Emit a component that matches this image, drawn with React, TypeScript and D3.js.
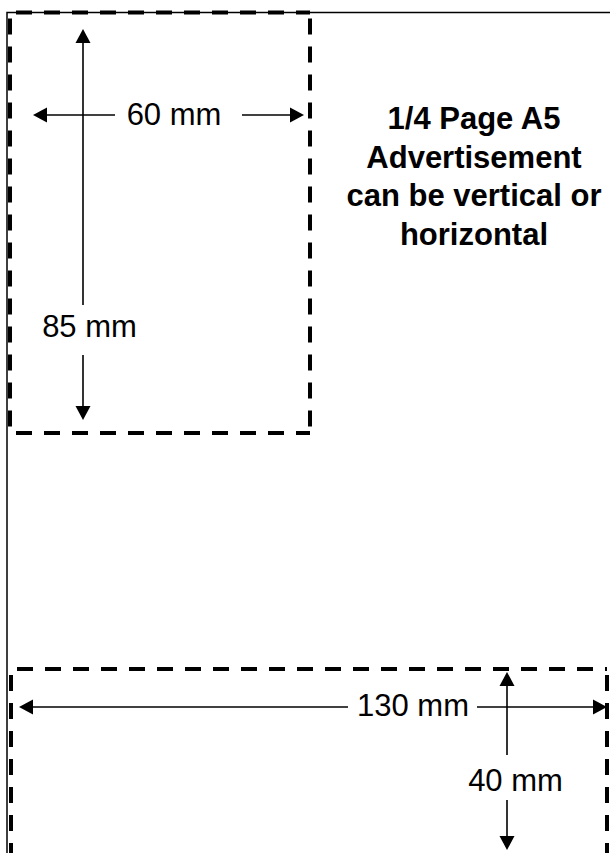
import React, { useEffect, useRef } from 'react';
import * as d3 from 'd3';

// dimensions of the advert (mm) and which way each arrow runs
const dimensionMm = [60, 85, 130, 40];
const dimensionDir = ['h', 'v', 'h', 'v'];
const headingLines = ['1/4 Page A5', 'Advertisement', 'can be vertical or', 'horizontal'];

const W = 610;
const H = 853;

const App: React.FC = () => {
  const svgRef = useRef<SVGSVGElement>(null);

  useEffect(() => {
    if (!svgRef.current) return;
    const svg = d3.select(svgRef.current);
    svg.selectAll('*').remove();

    const font = '"Liberation Sans", Arial, Helvetica, sans-serif';

    // page outline (top + left edge only)
    svg.append('path')
      .attr('d', `M7,${H} L7,12.5 L${W},12.5`)
      .attr('fill', 'none')
      .attr('stroke', '#000')
      .attr('stroke-width', 1.5);

    // the two ad boxes, dashed; each edge drawn on its own so the dash phase starts at the corner
    const boxes = [
      { x: 10, y: 12.5, w: 300, h: 420.5, bottom: true },
      { x: 11, y: 669, w: 596, h: 200, bottom: false },
    ];
    boxes.forEach(b => {
      const edges: [number, number, number, number][] = [
        [b.x, b.y, b.x + b.w, b.y],
        [b.x, b.y, b.x, b.y + b.h],
        [b.x + b.w, b.y, b.x + b.w, b.y + b.h],
      ];
      if (b.bottom) edges.push([b.x, b.y + b.h, b.x + b.w, b.y + b.h]);
      svg.append('g')
        .selectAll('line')
        .data(edges)
        .enter()
        .append('line')
        .attr('x1', d => d[0])
        .attr('y1', d => d[1])
        .attr('x2', d => d[2])
        .attr('y2', d => d[3])
        .attr('stroke', '#000')
        .attr('stroke-width', 4)
        .attr('stroke-dasharray', '16,12')
        .attr('stroke-dashoffset', 22);
    });

    // arrow layout: fixed axis pos, start/end, gap around the label
    const layout = [
      { at: 115, from: 33, to: 304, gap: [115, 242], lx: 174, ly: 125 },
      { at: 83, from: 29, to: 420, gap: [305, 355], lx: 89.5, ly: 337 },
      { at: 707, from: 19, to: 607, gap: [348, 477], lx: 413, ly: 716 },
      { at: 507, from: 672, to: 850, gap: [755, 800], lx: 515.5, ly: 791 },
    ];

    const head = 14;
    const half = 7.5;

    dimensionMm.forEach((mm, i) => {
      const a = layout[i];
      const horiz = dimensionDir[i] === 'h';
      const pt = (p: number, q: number) => (horiz ? [p, a.at + q] : [a.at + q, p]);
      const g = svg.append('g');
      const line = d3.line();

      // shaft, broken where the label sits
      [[a.from + head, a.gap[0]], [a.gap[1], a.to - head]].forEach(([s, e]) => {
        g.append('path')
          .attr('d', line([pt(s, 0), pt(e, 0)] as [number, number][]))
          .attr('stroke', '#000')
          .attr('stroke-width', 1.6)
          .attr('fill', 'none');
      });

      // arrow heads
      const heads = [
        [pt(a.from, 0), pt(a.from + head, -half), pt(a.from + head, half)],
        [pt(a.to, 0), pt(a.to - head, -half), pt(a.to - head, half)],
      ];
      heads.forEach(h => {
        g.append('path')
          .attr('d', line(h as [number, number][]) + 'Z')
          .attr('fill', '#000');
      });

      g.append('text')
        .attr('x', a.lx)
        .attr('y', a.ly)
        .attr('text-anchor', 'middle')
        .attr('font-family', font)
        .attr('font-size', 31)
        .attr('fill', '#000')
        .text(`${mm} mm`);
    });

    // heading block
    const lineY = d3.scaleLinear().domain([0, headingLines.length - 1]).range([129, 245]);
    svg.append('g')
      .selectAll('text')
      .data(headingLines)
      .enter()
      .append('text')
      .attr('x', 474)
      .attr('y', (_, i) => lineY(i))
      .attr('text-anchor', 'middle')
      .attr('font-family', font)
      .attr('font-weight', 'bold')
      .attr('font-size', 31)
      .attr('fill', '#000')
      .text(d => d);
  }, []);

  return (
    <svg
      ref={svgRef}
      width={W}
      height={H}
      style={{ position: 'absolute', left: 0, top: 0, background: '#fff' }}
    />
  );
};

export default App;
